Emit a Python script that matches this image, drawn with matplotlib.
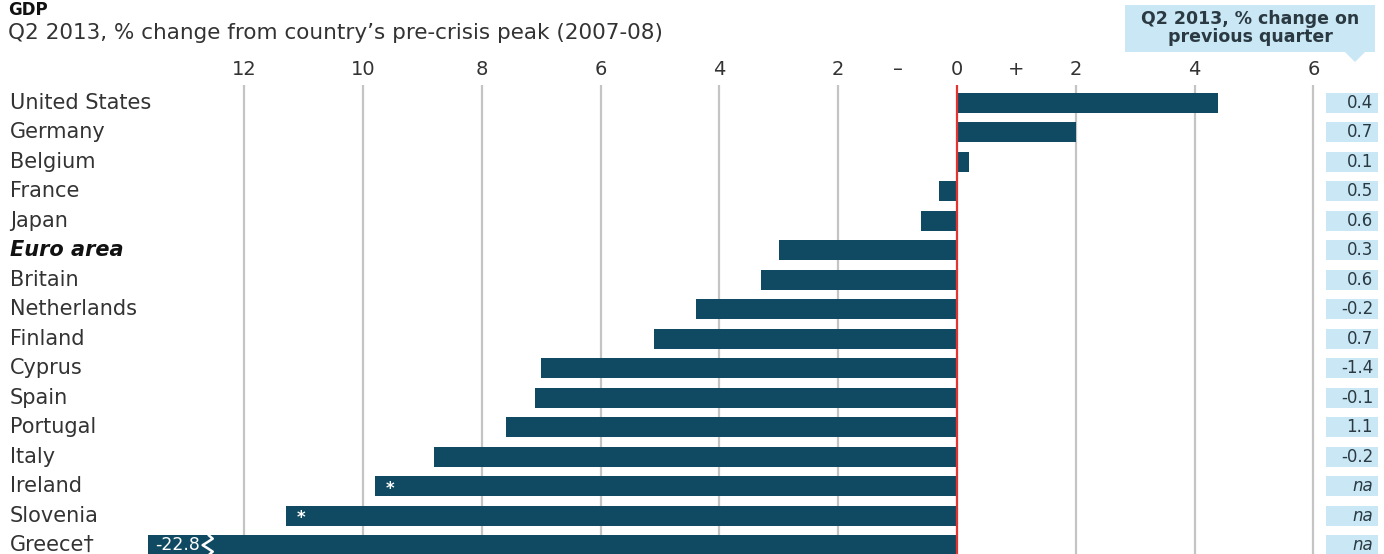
import matplotlib.pyplot as plt
from matplotlib.transforms import blended_transform_factory
from matplotlib.patches import Polygon

countries = ['United States', 'Germany', 'Belgium', 'France', 'Japan', 'Euro area',
             'Britain', 'Netherlands', 'Finland', 'Cyprus', 'Spain', 'Portugal',
             'Italy', 'Ireland', 'Slovenia', 'Greece\u2020']
from_peak = [4.4, 2.0, 0.2, -0.3, -0.6, -3.0, -3.3, -4.4, -5.1, -7.0, -7.1, -7.6,
             -8.8, -9.8, -11.3, -22.8]
quarter = ['0.4', '0.7', '0.1', '0.5', '0.6', '0.3', '0.6', '-0.2', '0.7', '-1.4',
           '-0.1', '1.1', '-0.2', 'na', 'na', 'na']
starred = ['Ireland', 'Slovenia']

tick_vals = [-12, -10, -8, -6, -4, -2, -1, 0, 1, 2, 4, 6]
tick_labels = ['12', '10', '8', '6', '4', '2', '\u2013', '0', '+', '2', '4', '6']
grid_vals = [-12, -10, -8, -6, -4, -2, 2, 4, 6]

bar_col = '#0f4a62'
box_col = '#c9e7f4'
text_col = '#333333'

W, H = 1384, 554
fig = plt.figure(figsize=(W / 100, H / 100), dpi=100)
x0, x1 = -13.62, 6.3
px_unit = 59.4
left_px = 957 + x0 * px_unit
right_px = 957 + x1 * px_unit
ax = fig.add_axes([left_px / W, 0, (right_px - left_px) / W, 1 - 85 / H])
ax.set_xlim(x0, x1)
ax.set_ylim(15.3, -0.61)
for s in ax.spines.values():
    s.set_visible(False)

for g in grid_vals:
    ax.axvline(g, color='#c4c4c4', lw=1.6, zorder=0)

y = list(range(len(countries)))
ax.barh(y, from_peak, height=0.68, color=bar_col, zorder=2)
ax.axvline(0, color='#e3342f', lw=1.6, zorder=3)

ax.xaxis.set_ticks_position('top')
ax.set_xticks(tick_vals, tick_labels)
ax.tick_params(axis='x', length=0, pad=4, labelsize=14, labelcolor=text_col)
ax.set_yticks([])

for name, v, yy in zip(countries, from_peak, y):
    if name in starred:
        ax.text(v + 0.25, yy + 0.08, '*', color='white', fontsize=12,
                fontweight='bold', ha='center', va='center', zorder=4)

# Greece runs off the scale: print its value and mark the break
gi = len(countries) - 1
ax.text(x0 + 0.12, gi, f'{from_peak[gi]:.1f}', color='white', fontsize=12.5,
        ha='left', va='center', zorder=4)
zx = -12.6
zz = [(zx, gi - 0.34), (zx + 0.07, gi - 0.22), (zx - 0.02, gi - 0.1),
      (zx - 0.1, gi), (zx - 0.02, gi + 0.1), (zx + 0.07, gi + 0.22), (zx, gi + 0.34)]
ax.plot([p[0] for p in zz], [p[1] for p in zz], color='white', lw=1.8,
        zorder=4, solid_capstyle='round')

# country names on the left, quarterly change boxes on the right
trl = blended_transform_factory(fig.transFigure, ax.transData)
for name, q, yy in zip(countries, quarter, y):
    if name == 'Euro area':
        fig.text(10 / W, yy, name, transform=trl, ha='left', va='center',
                 fontsize=15, color='#111111', fontweight='bold', style='italic')
    else:
        fig.text(10 / W, yy, name, transform=trl, ha='left', va='center',
                 fontsize=15, color=text_col)
    ax.add_patch(plt.Rectangle((1326 / W, yy - 0.34), 52 / W, 0.68,
                               transform=trl, facecolor=box_col, edgecolor='none',
                               clip_on=False))
    fig.text(1373 / W, yy, q, transform=trl, ha='right', va='center',
             fontsize=12, color='#2b3a42',
             style='italic' if q == 'na' else 'normal')

fig.text(8 / W, 1 - 1 / H, 'GDP', ha='left', va='top', fontsize=12,
         fontweight='bold', color='#111111')
fig.text(8 / W, 1 - 33 / H, 'Q2 2013, % change from country\u2019s pre-crisis peak (2007-08)',
         ha='left', va='center', fontsize=15.5, color=text_col)

# header box for the right-hand column
hb = plt.Rectangle((1125 / W, 1 - 52 / H), 250 / W, 47 / H, transform=fig.transFigure,
                   facecolor=box_col, edgecolor='none')
fig.add_artist(hb)
tri = Polygon([(1345 / W, 1 - 52 / H), (1365 / W, 1 - 52 / H), (1355 / W, 1 - 62 / H)],
              closed=True, transform=fig.transFigure, facecolor=box_col, edgecolor='none')
fig.add_artist(tri)
fig.text(1250 / W, 1 - 28 / H, 'Q2 2013, % change on\nprevious quarter', ha='center',
         va='center', fontsize=12.5, fontweight='bold', color='#2b3a42', linespacing=1.0)

fig.savefig('out.png', dpi=100, facecolor='white')
